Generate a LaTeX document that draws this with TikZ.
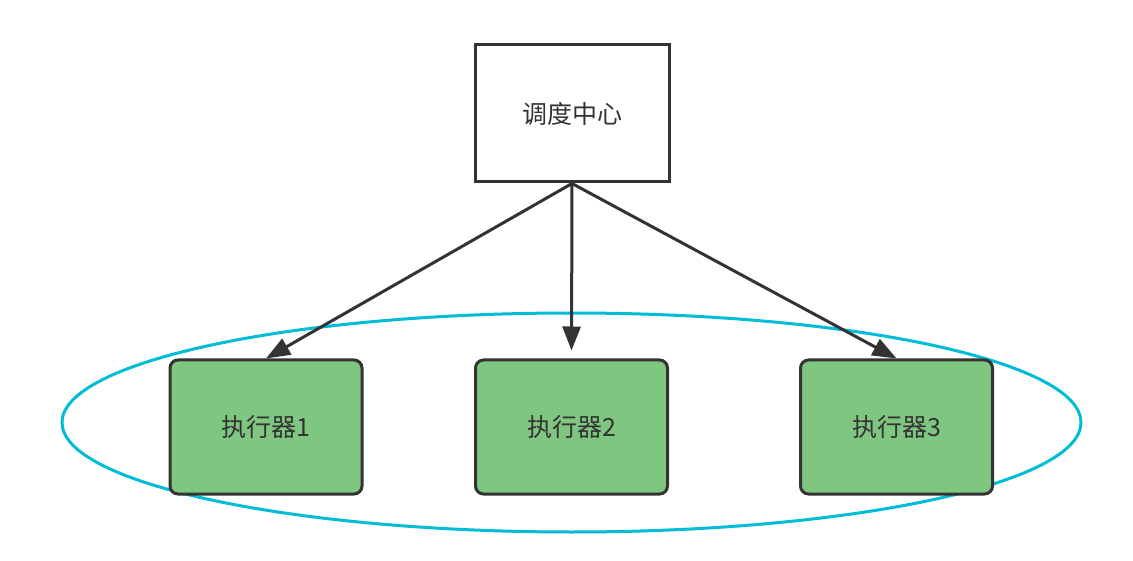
\documentclass[tikz,border=0pt]{standalone}
\usepackage{fontspec}
\setmainfont{Noto Sans CJK SC}
\usetikzlibrary{arrows.meta,shapes.geometric}
\definecolor{edge}{HTML}{333333}
\definecolor{cyanline}{HTML}{00BCD4}
\definecolor{greenfill}{HTML}{7FC780}
\tikzset{
  box/.style={draw=edge, line width=3pt, minimum width=194pt, minimum height=137pt, inner sep=0pt, font=\fontsize{25}{30}\selectfont, text=edge},
  exec/.style={box, fill=greenfill, rounded corners=8pt, minimum width=192pt, minimum height=134pt},
  conn/.style={draw=edge, line width=3pt, -{Triangle[length=24pt,width=18pt]}},
}
\begin{document}
\begin{tikzpicture}[x=1pt,y=-1pt]
\useasboundingbox (0,0) rectangle (1133,561);
\node[draw=cyanline, line width=3pt, ellipse, minimum width=1019pt, minimum height=219pt, inner sep=0pt] (group) at (571.5,422.5) {};
\node[box] (center) at (572,113.5) {调度中心};
\node[exec] (e1) at (266,427) {执行器1};
\node[exec] (e2) at (571.5,427) {执行器2};
\node[exec] (e3) at (896.5,427) {执行器3};
\draw[conn] (center.south) -- (e1.north);
\draw[conn, shorten >=8pt] (center.south) -- (e2.north);
\draw[conn] (center.south) -- (e3.north);
\end{tikzpicture}
\end{document}
